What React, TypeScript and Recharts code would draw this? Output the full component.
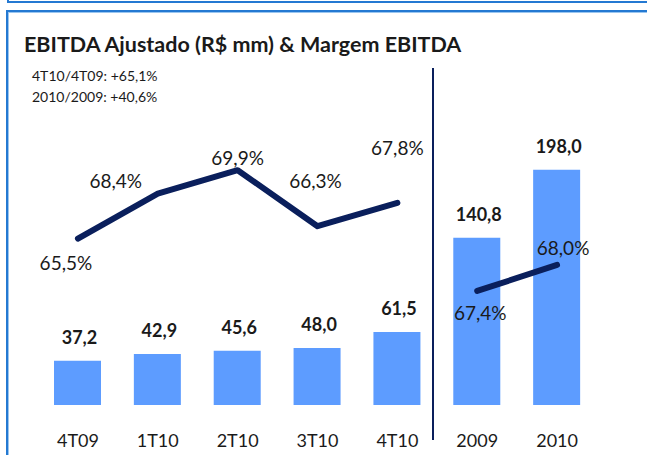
import React from 'react';
import { ComposedChart, Bar, Line, XAxis, YAxis, LabelList } from 'recharts';

const categories = ['4T09', '1T10', '2T10', '3T10', '4T10', '2009', '2010'];
const ebitda = [37.2, 42.9, 45.6, 48.0, 61.5, 140.8, 198.0];
const margemTrimestral: (number | null)[] = [65.5, 68.4, 69.9, 66.3, 67.8, null, null];
const margemAnual: (number | null)[] = [null, null, null, null, null, 67.4, 68.0];
const titleText = 'EBITDA Ajustado (R$ mm) & Margem EBITDA';
const notes = ['4T10/4T09: +65,1%', '2010/2009: +40,6%'];

const data = categories.map((c, i) => ({
  cat: c,
  ebitda: ebitda[i],
  mTri: margemTrimestral[i],
  mAno: margemAnual[i],
}));

const FONT = 'Lato, "DejaVu Sans", sans-serif';
const TEXT = '#1a1a1a';
const NAVY = '#0a1f5c';
const BAR = '#5d9cff';

const fmt = (v: number) => v.toFixed(1).replace('.', ',');

// label offsets (style) relative to each plotted point
const lineLabelOffset: Record<number, [number, number]> = {
  0: [-12, 24],
  1: [-42, -13],
  2: [0, -13],
  3: [-2, -46],
  4: [0, -55],
  5: [3, 22],
  6: [6, -17],
};

const LineLabel = (props: any) => {
  const { x, y, value, index } = props;
  if (value == null || x == null || y == null) return null;
  const off = lineLabelOffset[index] || [0, -15];
  return (
    <text
      x={x + off[0]}
      y={y + off[1]}
      textAnchor="middle"
      dominantBaseline="central"
      fontFamily={FONT}
      fontSize={19}
      fill={TEXT}
    >
      {fmt(value) + '%'}
    </text>
  );
};

const BarLabel = (props: any) => {
  const { x, y, width, value } = props;
  if (value == null) return null;
  return (
    <text
      x={x + width / 2 + 2}
      y={y - 24}
      textAnchor="middle"
      dominantBaseline="central"
      fontFamily={FONT}
      fontWeight={700}
      fontSize={18}
      fill={TEXT}
    >
      {fmt(value)}
    </text>
  );
};

const Tick = (props: any) => {
  const { x, y, payload } = props;
  return (
    <text
      x={x}
      y={y + 35}
      textAnchor="middle"
      dominantBaseline="central"
      fontFamily={FONT}
      fontSize={18}
      fill={TEXT}
    >
      {payload.value}
    </text>
  );
};

export default function App() {
  return (
    <div
      style={{
        position: 'absolute',
        left: 0,
        top: 0,
        width: 647,
        height: 455,
        overflow: 'hidden',
        background: '#fff',
        fontFamily: FONT,
      }}
    >
      {/* previous panel edge */}
      <div
        style={{
          position: 'absolute',
          left: 7,
          top: -20,
          width: 700,
          height: 21,
          borderLeft: '2px solid #2479d2',
          borderBottom: '2px solid #2479d2',
        }}
      />
      {/* current panel frame */}
      <div
        style={{
          position: 'absolute',
          left: 6,
          top: 10,
          width: 700,
          height: 500,
          borderLeft: '2px solid #2479d2',
          borderTop: '2px solid #2479d2',
          boxShadow: 'inset 1px 1px 0 #9ac6f0',
        }}
      />
      <div
        style={{
          position: 'absolute',
          left: 24,
          top: 30,
          fontSize: 21.5,
          fontWeight: 700,
          color: TEXT,
          whiteSpace: 'nowrap',
          lineHeight: '28px',
        }}
      >
        {titleText}
      </div>
      {notes.map((n, i) => (
        <div
          key={n}
          style={{
            position: 'absolute',
            left: 32,
            top: 67 + i * 21,
            fontSize: 14,
            color: TEXT,
            whiteSpace: 'nowrap',
            lineHeight: '18px',
          }}
        >
          {n}
        </div>
      ))}
      <div
        style={{
          position: 'absolute',
          left: 432,
          top: 68,
          width: 2,
          height: 372,
          background: NAVY,
        }}
      />
      <div style={{ position: 'absolute', left: 0, top: 0 }}>
        <ComposedChart
          width={647}
          height={455}
          data={data}
          margin={{ top: 108, right: 50, bottom: 20, left: 38 }}
        >
          <XAxis
            dataKey="cat"
            axisLine={false}
            tickLine={false}
            tickSize={0}
            tickMargin={0}
            height={30}
            interval={0}
            tick={<Tick />}
          />
          <YAxis yAxisId="v" hide domain={[0, 250]} />
          <YAxis yAxisId="m1" hide domain={[54.8, 73.9]} allowDataOverflow />
          <YAxis yAxisId="m2" hide domain={[64.77, 71.62]} allowDataOverflow />
          <Bar yAxisId="v" dataKey="ebitda" fill={BAR} barSize={47} isAnimationActive={false}>
            <LabelList dataKey="ebitda" content={<BarLabel />} />
          </Bar>
          <Line
            yAxisId="m1"
            dataKey="mTri"
            stroke={NAVY}
            strokeWidth={6}
            strokeLinecap="round"
            strokeLinejoin="round"
            dot={false}
            activeDot={false}
            connectNulls={false}
            isAnimationActive={false}
          >
            <LabelList dataKey="mTri" content={<LineLabel />} />
          </Line>
          <Line
            yAxisId="m2"
            dataKey="mAno"
            stroke={NAVY}
            strokeWidth={6}
            strokeLinecap="round"
            strokeLinejoin="round"
            dot={false}
            activeDot={false}
            connectNulls={false}
            isAnimationActive={false}
          >
            <LabelList dataKey="mAno" content={<LineLabel />} />
          </Line>
        </ComposedChart>
      </div>
    </div>
  );
}
